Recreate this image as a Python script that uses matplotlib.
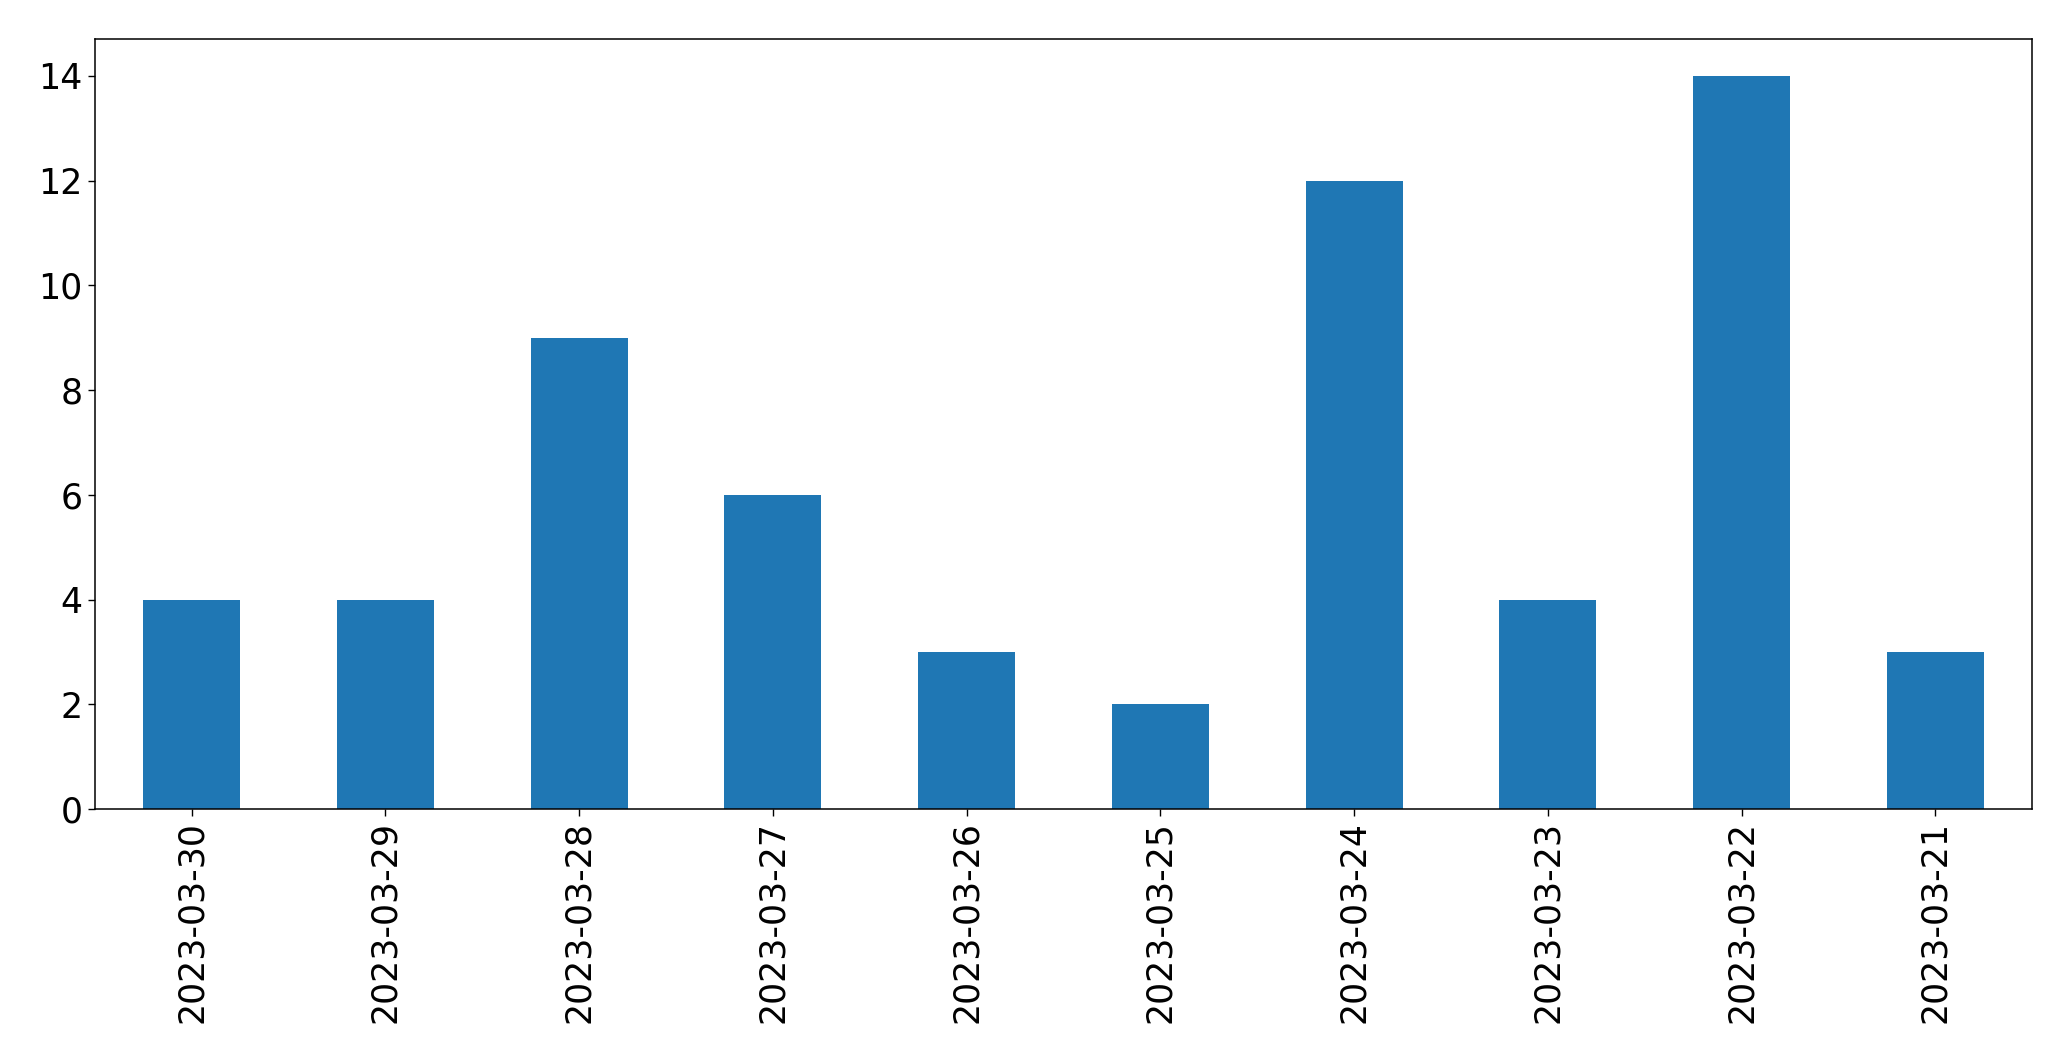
import matplotlib
matplotlib.use("Agg")
import matplotlib.pyplot as plt
import numpy as np

dates = ['2023-03-30', '2023-03-29', '2023-03-28', '2023-03-27', '2023-03-26',
         '2023-03-25', '2023-03-24', '2023-03-23', '2023-03-22', '2023-03-21']
counts = [4, 4, 9, 6, 3, 2, 12, 4, 14, 3]

fig = plt.figure(figsize=(20.71, 10.61), dpi=100)
ax = fig.add_axes([94.7/2071, 1 - 809/1061, (2032.3-94.7)/2071, (809-39.3)/1061])
x_pos = np.arange(len(dates))
ax.bar(x_pos, counts, width=0.5, color='#1f77b4')
ax.set_xlim(-0.5, len(dates) - 0.5)
ax.set_ylim(0, max(counts) * 1.05)
ax.set_xticks(x_pos)
ax.set_xticklabels(dates, rotation=90)
ax.tick_params(labelsize=25, length=5.3, width=1)
for s in ax.spines.values():
    s.set_linewidth(1.1)
fig.savefig('out.png', dpi=100)
